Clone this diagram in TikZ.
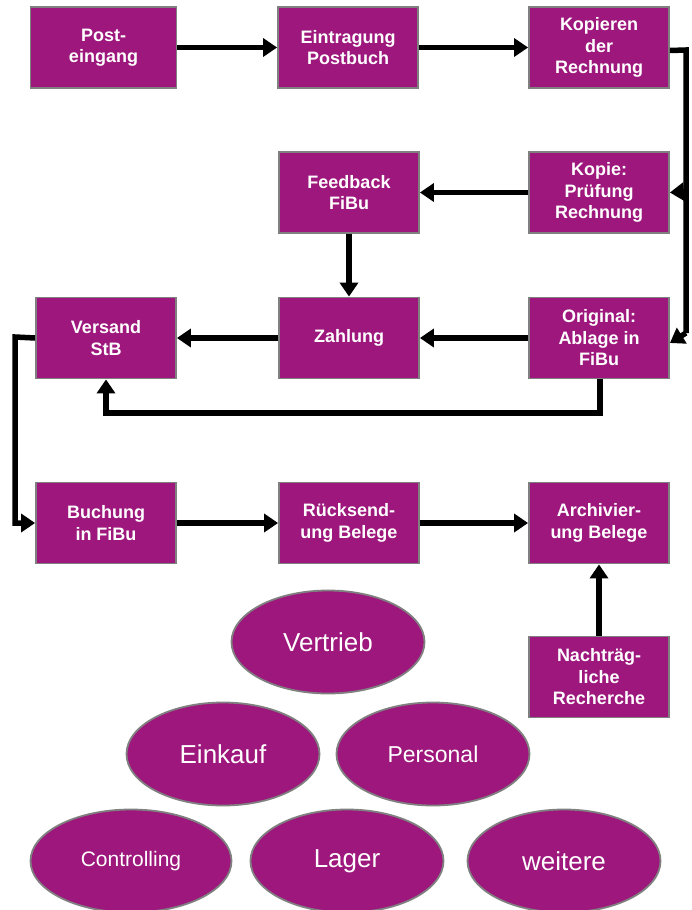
\documentclass[tikz,border=0pt]{standalone}
\usepackage{fontspec}
\setmainfont{Liberation Sans}
\usetikzlibrary{shapes.geometric,arrows.meta}
\definecolor{pur}{RGB}{157,23,124}
\definecolor{edge}{RGB}{128,128,128}
\tikzset{
  box/.style={rectangle,fill=pur,draw=edge,line width=1.8pt,minimum width=140pt,minimum height=81pt,
    text=white,align=center,inner sep=2pt,font=\fontsize{18}{21.5}\selectfont\bfseries},
  oval/.style={ellipse,fill=pur,draw=edge,line width=1.8pt,minimum width=193pt,minimum height=103pt,
    text=white,inner sep=0pt,font=\fontsize{26}{30}\selectfont},
  conn/.style={line width=5.5pt,-{Triangle[length=14pt,width=18pt]},line join=miter},
  plain/.style={line width=5.5pt,line join=miter}
}
\begin{document}
\begin{tikzpicture}[x=1pt,y=-1pt]
\useasboundingbox (0,0) rectangle (692,910);
% boxes
\node[box,minimum width=146pt] (post) at (103.5,47.5) {Post-\\eingang};
\node[box] (eintr) at (348,47.5) {Eintragung\\Postbuch};
\node[box] (kop) at (599,47.5) {Kopieren\\der\\Rechnung};
\node[box] (feed) at (349,192.5) {Feedback\\FiBu};
\node[box] (kopie) at (599,192.5) {Kopie:\\Prüfung\\Rechnung};
\node[box] (vers) at (106,338) {Versand\\StB};
\node[box] (zahl) at (349,338) {Zahlung};
\node[box] (orig) at (599,338) {Original:\\Ablage in\\FiBu};
\node[box] (buch) at (106,523) {Buchung\\in FiBu};
\node[box] (rueck) at (349,523) {Rücksend-\\ung Belege};
\node[box] (arch) at (599,523) {Archivier-\\ung Belege};
\node[box] (nach) at (599,677) {Nachträg-\\liche\\Recherche};
% connectors
\coordinate (kr) at (686,50);
\draw[conn] (post.east) -- (eintr.west);
\draw[conn] (eintr.east) -- (kop.west);
\draw[plain] ([yshift=-3pt]kop.east) -- (kr) -- (686,333);
\draw[conn] (686,191.5) -- (kopie.east);
\draw[conn] (686,333) -- ([yshift=-5pt]orig.east);
\draw[conn] (kopie.west) -- (feed.east);
\draw[conn] (feed.south) -- (zahl.north);
\draw[conn] (orig.west) -- (zahl.east);
\draw[conn] (zahl.west) -- (vers.east);
\coordinate (ob) at (600,413);
\draw[conn] (orig.south -| ob) -- (ob) -| (vers.south);
\coordinate (vl) at (15,337);
\draw[conn] (vers.west) -- (vl) |- (buch.west);
\draw[conn] (buch.east) -- (rueck.west);
\draw[conn] (rueck.east) -- (arch.west);
\draw[conn] (nach.north) -- (arch.south);
% ellipses
\node[oval] (vertrieb) at (328,642) {Vertrieb};
\node[oval] (einkauf) at (223,754) {Einkauf};
\node[oval,font=\fontsize{23}{27}\selectfont] (personal) at (433,754) {Personal};
\node[oval,minimum width=201pt,font=\fontsize{21}{25}\selectfont] (controlling) at (131,861) {Controlling};
\node[oval] (lager) at (347,861) {Lager};
\node[oval] (weitere) at (564,861) {weitere};
\end{tikzpicture}
\end{document}
